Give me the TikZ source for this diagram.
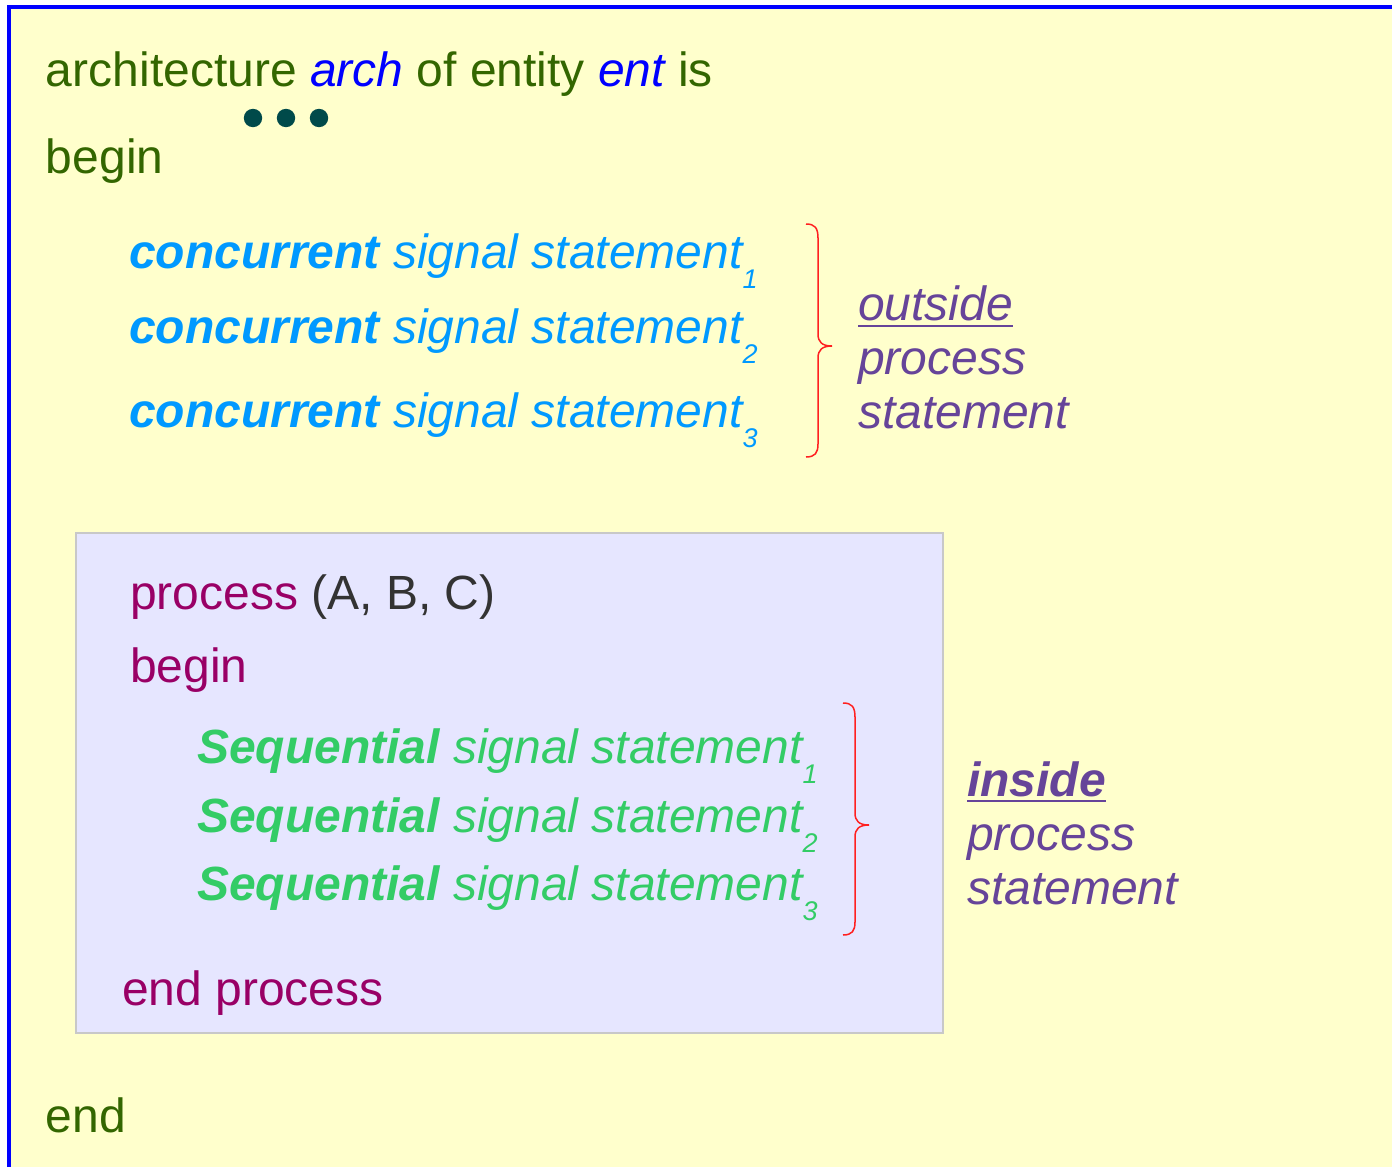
\documentclass[tikz,border=0pt]{standalone}
\usepackage{fontspec}
\setmainfont{Liberation Sans}
\definecolor{bgyellow}{HTML}{FFFFCC}
\definecolor{frameblue}{HTML}{0000FF}
\definecolor{codegreen}{HTML}{336600}
\definecolor{concblue}{HTML}{0099FF}
\definecolor{seqgreen}{HTML}{33CC66}
\definecolor{procmag}{HTML}{990066}
\definecolor{argsgrey}{HTML}{333333}
\definecolor{labpurple}{HTML}{664499}
\definecolor{boxlav}{HTML}{E6E6FF}
\definecolor{boxedge}{HTML}{C8C8C8}
\definecolor{dotteal}{HTML}{004A4A}
\definecolor{bracered}{HTML}{FF2020}
\newcommand{\subidx}[1]{\raisebox{-10pt}{\fontsize{13.5}{13.5}\selectfont #1}}
\begin{document}
\begin{tikzpicture}[x=0.5pt,y=-0.5pt,
  txt/.style={inner sep=0pt,outer sep=0pt,anchor=base west,font=\fontsize{24}{28}\selectfont},
  kw/.style={txt,text=codegreen},
  conc/.style={txt,text=concblue,font=\fontsize{24}{28}\selectfont\itshape},
  seq/.style={txt,text=seqgreen,font=\fontsize{24}{28}\selectfont\itshape},
  proc/.style={txt,text=procmag},
  lab/.style={txt,text=labpurple,font=\fontsize{24}{28}\selectfont\itshape},
  bracepath/.style={draw=bracered,line width=0.75pt},
  uline/.style={draw=labpurple,line width=1.1pt}]
\useasboundingbox (0,0) rectangle (1392,1167);
\clip (0,0) rectangle (1392,1167);
% outer frame
\draw[fill=bgyellow,draw=frameblue,line width=2pt] (9,7) rectangle (1420,1200);
% header
\node[kw] (arch) at (46,86) {architecture \textcolor{frameblue}{\itshape arch} of entity \textcolor{frameblue}{\itshape ent} is};
\fill[dotteal] (253,118) circle[radius=4.6pt] (286,118) circle[radius=4.6pt] (319,118) circle[radius=4.6pt];
\node[kw] (beg) at (46,173) {begin};
% concurrent statements
\node[conc] (c1) at (129,268) {\textbf{concurrent} signal statement\subidx{1}};
\node[conc] (c2) at (129,343) {\textbf{concurrent} signal statement\subidx{2}};
\node[conc] (c3) at (129,427) {\textbf{concurrent} signal statement\subidx{3}};
% brace 1
\draw[bracepath] (806,224) .. controls (815,224) and (818,228) .. (818,238) -- (818,334)
  .. controls (818,342) and (822,346) .. (832,346)
  .. controls (822,346) and (818,350) .. (818,358) -- (818,444)
  .. controls (818,453) and (815,457) .. (806,457);
\node[lab] (out1) at (858,320) {outside};
\draw[uline] ([yshift=-2.8pt]out1.base west) -- ([yshift=-2.8pt]out1.base east);
\node[lab] (out2) at (858,374) {process};
\node[lab] (out3) at (858,428) {statement};
% process box
\draw[fill=boxlav,draw=boxedge,line width=1pt] (76,533) rectangle (943,1033);
\node[proc] (p1) at (130,609) {process \textcolor{argsgrey}{(A, B, C)}};
\node[proc] (p2) at (130,682) {begin};
\node[seq] (s1) at (197,763) {\textbf{Sequential} signal statement\subidx{1}};
\node[seq] (s2) at (197,832) {\textbf{Sequential} signal statement\subidx{2}};
\node[seq] (s3) at (197,900) {\textbf{Sequential} signal statement\subidx{3}};
% brace 2
\draw[bracepath] (843,703) .. controls (852,703) and (855,707) .. (855,717) -- (855,813)
  .. controls (855,821) and (859,825) .. (869,825)
  .. controls (859,825) and (855,829) .. (855,837) -- (855,922)
  .. controls (855,931) and (852,935) .. (843,935);
\node[proc] (p3) at (122,1005) {end process};
\node[lab] (in1) at (967,796) {\bfseries inside};
\draw[uline] ([yshift=-2.5pt]in1.base west) -- ([yshift=-2.5pt]in1.base east);
\node[lab] (in2) at (967,850) {process};
\node[lab] (in3) at (967,904) {statement};
\node[kw] (fin) at (46,1132) {end};
\end{tikzpicture}
\end{document}
